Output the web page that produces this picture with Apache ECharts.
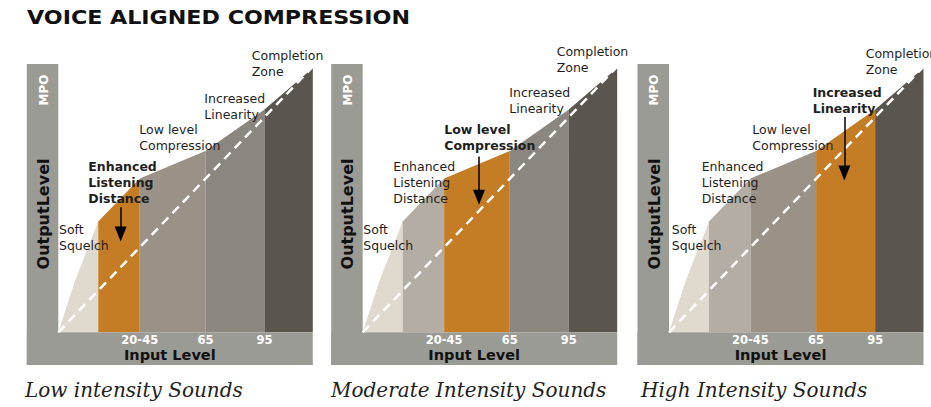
<!DOCTYPE html>
<html>
<head>
<meta charset="utf-8">
<script src="https://cdn.jsdelivr.net/npm/echarts@6/dist/echarts.min.js"></script>
<style>html,body{margin:0;padding:0;background:#fff;}#chart{width:931px;height:407px;}</style>
</head>
<body>
<div id="chart"></div>
<script>
// ---- data ----
const chartTitle = 'VOICE ALIGNED COMPRESSION';
const panelTitles = ['Low intensity Sounds', 'Moderate Intensity Sounds', 'High Intensity Sounds'];
const zoneLabels = [['Soft', 'Squelch'], ['Enhanced', 'Listening', 'Distance'], ['Low level', 'Compression'], ['Increased', 'Linearity'], ['Completion', 'Zone']];
const curveInput = [0, 6.5, 15.7, 32, 57.8, 81, 100];
const curveOutput = [0, 19, 41.3, 57.3, 67.6, 83, 98.5];
const zoneStart = [0, 2, 3, 4, 5];
const zoneEnd = [2, 3, 4, 5, 6];
const linearInput = [0, 100];
const linearOutput = [0, 99];
const tickValues = [32, 57.8, 81];
const tickLabels = ['20-45', '65', '95'];
const highlightedZone = [1, 2, 3];
const arrowInput = [24.5, 45.7, 68.9];
const arrowFrom = [46.6, 65.5, 80.2];
const arrowTo = [33.8, 47.5, 56.6];

// ---- styles / layout ----
const zoneColors = ['#dfd9ce', '#b4ada3', '#9a9287', '#8b8680', '#5a564f'];
const highlightColor = '#c47c25';
const frameColor = '#9a9b95';
const plotLefts = [58.3, 362.7, 669];
const plotTop = 64, plotW = 254.5, plotH = 268.3, stripW = 31.5, frameBottom = 365;
const subtitleX = [25, 331, 641];
const labelPos = [
  [[0.7, 229], [30, 166], [81, 129], [146, 98.5], [193.5, 55.5]],
  [[0.6, 229], [30.6, 166], [81.6, 129], [146.6, 92], [194, 51.5]],
  [[2.7, 229], [32.7, 166], [83.3, 129], [143.7, 92], [196.7, 53.5]]
];
const headHalf = 7.5 / plotH * 100;

const grids = [], xAxes = [], yAxes = [], series = [], graphics = [];

graphics.push({type: 'text', x: 27, y: 16.5, scaleX: 1.11,
  style: {text: chartTitle, fill: '#111', font: 'bold 20px "DejaVu Sans"', align: 'left', verticalAlign: 'middle'}});

for (let p = 0; p < 3; p++) {
  const L = plotLefts[p];
  grids.push({left: L, top: plotTop, width: plotW, height: plotH, containLabel: false});
  xAxes.push({type: 'value', gridIndex: p, min: 0, max: 100,
    axisLine: {show: false}, axisTick: {show: false}, splitLine: {show: false},
    axisLabel: {show: true, customValues: tickValues, margin: 8, verticalAlign: 'middle',
      color: '#fff', fontFamily: 'DejaVu Sans', fontWeight: 'bold', fontSize: 11.5,
      formatter: v => { const i = tickValues.findIndex(t => Math.abs(t - v) < 0.01); return i >= 0 ? tickLabels[i] : ''; }}});
  yAxes.push({type: 'value', gridIndex: p, min: 0, max: 100, show: false});

  for (let z = 0; z < 5; z++) {
    const pts = [];
    for (let k = zoneStart[z]; k <= zoneEnd[z]; k++) pts.push([curveInput[k], curveOutput[k]]);
    const col = (z === highlightedZone[p]) ? highlightColor : zoneColors[z];
    series.push({type: 'line', xAxisIndex: p, yAxisIndex: p, data: pts, symbol: 'none', silent: true,
      lineStyle: {width: 0, color: col}, areaStyle: {color: col, opacity: 1}, z: 2});
  }
  series.push({type: 'line', xAxisIndex: p, yAxisIndex: p, silent: true, symbol: 'none', z: 3,
    data: linearInput.map((x, i) => [x, linearOutput[i]]),
    lineStyle: {color: '#fff', width: 2.5, type: [9, 6]},
    markLine: {silent: true, symbol: ['none', 'triangle'], symbolSize: [12, 15], animation: false,
      lineStyle: {color: '#000', width: 1.5, type: 'solid'}, label: {show: false},
      data: [[{coord: [arrowInput[p], arrowFrom[p]]}, {coord: [arrowInput[p], arrowTo[p] + headHalf]}]]}});

  // frame strips
  graphics.push({type: 'rect', shape: {x: L - stripW, y: plotTop, width: stripW, height: frameBottom - plotTop}, style: {fill: frameColor}, z: -1});
  graphics.push({type: 'rect', shape: {x: L - stripW, y: plotTop + plotH, width: plotW + stripW, height: frameBottom - plotTop - plotH}, style: {fill: frameColor}, z: -1});
  // frame texts
  graphics.push({type: 'text', x: L - stripW + (plotW + stripW) / 2, y: 354.5,
    style: {text: 'Input Level', fill: '#111', font: 'bold 14.5px "DejaVu Sans"', align: 'center', verticalAlign: 'middle'}});
  graphics.push({type: 'text', x: L - stripW / 2 + 1, y: 214, rotation: Math.PI / 2,
    style: {text: 'OutputLevel', fill: '#111', font: 'bold 16px "DejaVu Sans"', align: 'center', verticalAlign: 'middle'}});
  graphics.push({type: 'text', x: L - stripW / 2 + 1, y: 90, rotation: Math.PI / 2,
    style: {text: 'MPO', fill: '#fff', font: 'bold 12px "DejaVu Sans"', align: 'center', verticalAlign: 'middle'}});
  // zone labels
  for (let z = 0; z < 5; z++) {
    const bold = z === highlightedZone[p];
    graphics.push({type: 'text', x: L + labelPos[p][z][0], y: labelPos[p][z][1] - 8, z: 10,
      style: {text: zoneLabels[z].join('\n'), fill: '#1e1e1e', lineHeight: 16,
        font: (bold ? 'bold ' : '') + '12.5px "DejaVu Sans"', align: 'left', verticalAlign: 'top'}});
  }
  graphics.push({type: 'text', x: subtitleX[p], y: 390,
    style: {text: panelTitles[p], fill: '#222', font: 'italic 20px "DejaVu Serif"', align: 'left', verticalAlign: 'middle'}});
}

const chart = echarts.init(document.getElementById('chart'), null, {renderer: 'svg'});
chart.setOption({animation: false, grid: grids, xAxis: xAxes, yAxis: yAxes, series: series, graphic: graphics});
</script>
</body>
</html>
